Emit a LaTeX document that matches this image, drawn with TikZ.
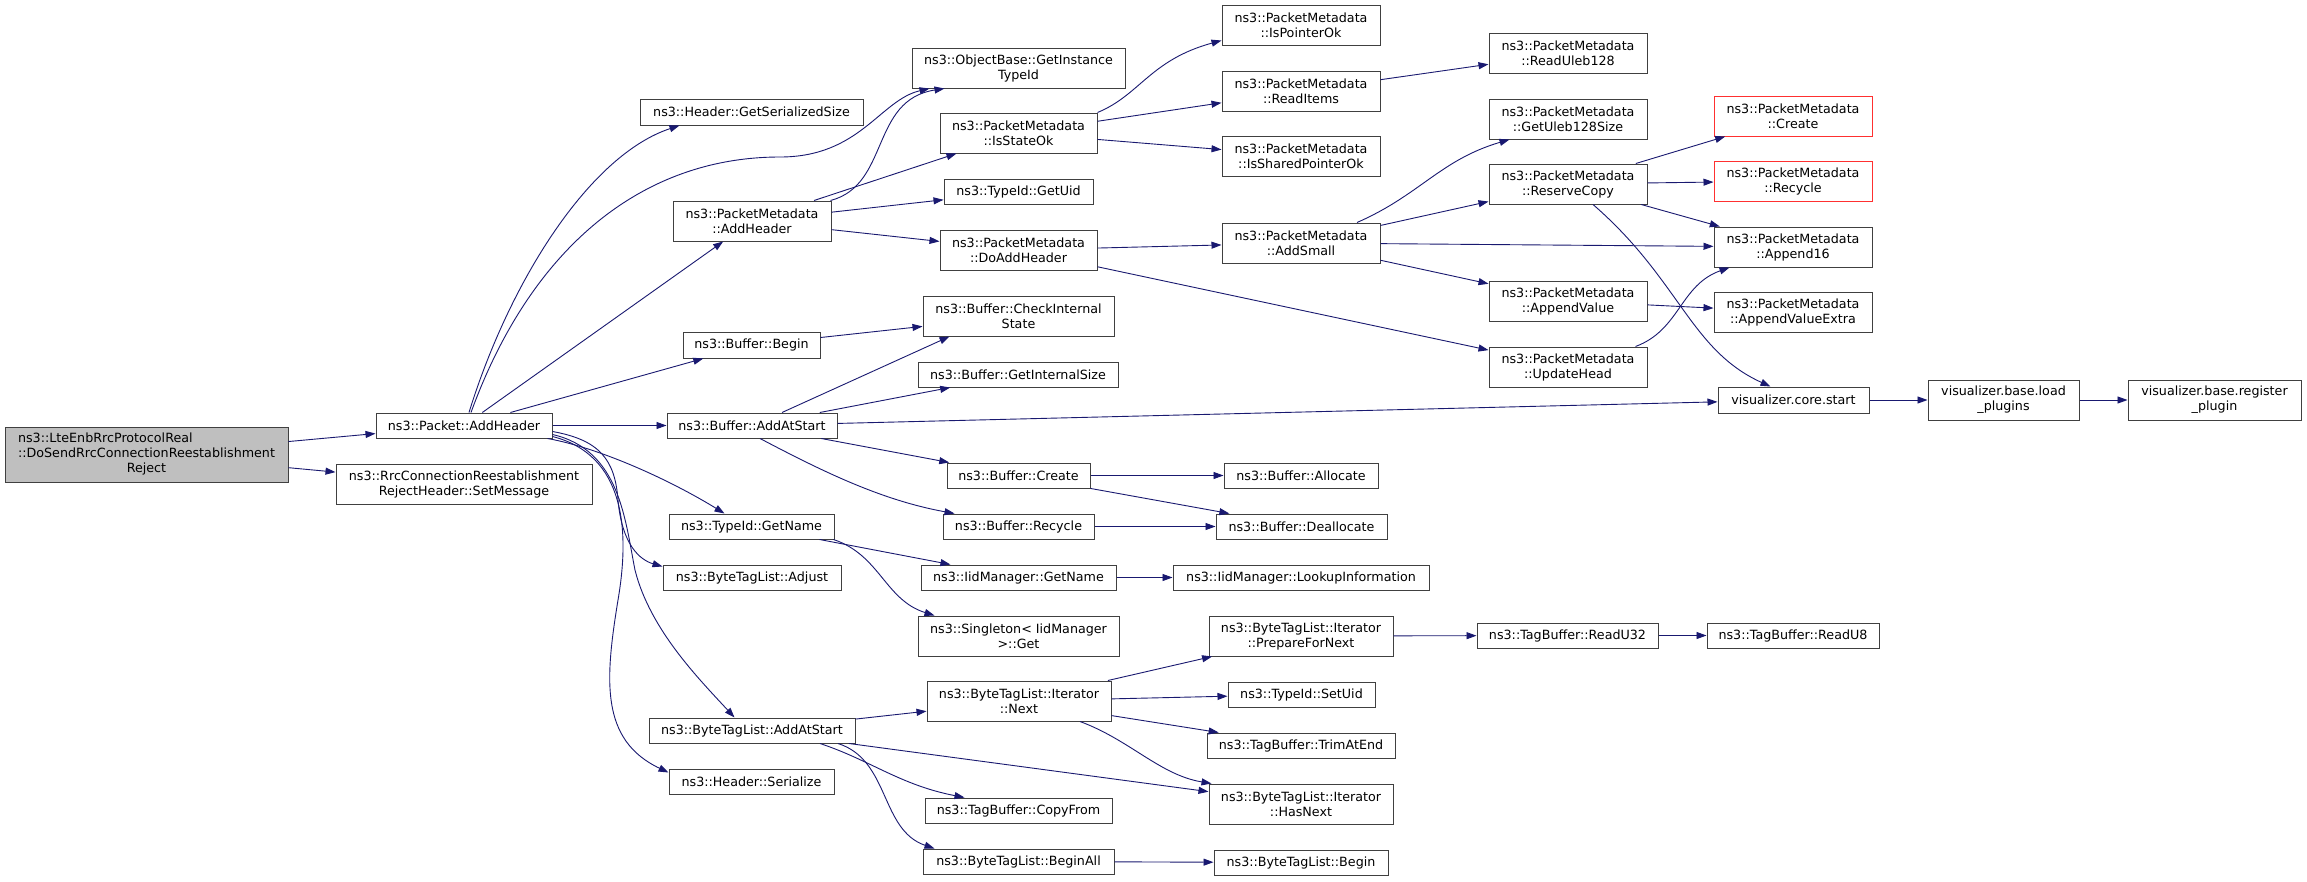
\documentclass[tikz,border=0pt]{standalone}
\usepackage{fontspec}
\setmainfont{DejaVu Sans}
\usetikzlibrary{arrows.meta,calc}
\definecolor{edgec}{HTML}{191970}
\definecolor{boxc}{HTML}{404040}
\definecolor{rootfill}{HTML}{BFBFBF}
\definecolor{trunc}{HTML}{FF3030}
\newcommand\mkbox[6][]{\node[fbox,#1,minimum width={(#4-#2)*1pt},minimum height={(#5-#3)*1pt}] (#6) at ({(#2+#4)/2},{(#3+#5)/2})}
\tikzset{
  fbox/.style={draw=boxc, line width=1pt, inner sep=0pt, align=center, text=black, font=\fontsize{12.7}{15}\selectfont},
  e/.style={draw=edgec, line width=0.9pt, -{Triangle[length=10pt,width=7pt]}}
}
\begin{document}
\begin{tikzpicture}[x=1pt,y=-1pt]
\useasboundingbox (0,0) rectangle (2307,881);
\fill[white] (0,0) rectangle (2307,881);
% nodes
\mkbox[fill=rootfill]{5}{427}{288}{482}{root}{\begin{tabular}{@{}l@{}}ns3::LteEnbRrcProtocolReal\\::DoSendRrcConnectionReestablishment\\\multicolumn{1}{@{}c@{}}{Reject}\end{tabular}};
\mkbox{376}{413}{552}{438}{pah}{ns3::Packet::AddHeader};
\mkbox{336}{464}{592}{504}{setmsg}{ns3::RrcConnectionReestablishment\\RejectHeader::SetMessage};
\mkbox{640}{99}{863}{125}{gss}{ns3::Header::GetSerializedSize};
\mkbox{912}{48}{1125}{88}{obt}{ns3::ObjectBase::GetInstance\\TypeId};
\mkbox{673}{201}{831}{241}{pmah}{ns3::PacketMetadata\\::AddHeader};
\mkbox{683}{332}{820}{358}{bbegin}{ns3::Buffer::Begin};
\mkbox{667}{413}{837}{438}{baas}{ns3::Buffer::AddAtStart};
\mkbox{669}{514}{834}{539}{tgn}{ns3::TypeId::GetName};
\mkbox{663}{565}{841}{590}{adj}{ns3::ByteTagList::Adjust};
\mkbox{649}{718}{855}{743}{btlaas}{ns3::ByteTagList::AddAtStart};
\mkbox{669}{769}{834}{794}{hser}{ns3::Header::Serialize};
\mkbox{940}{113}{1097}{153}{iso}{ns3::PacketMetadata\\::IsStateOk};
\mkbox{944}{179}{1093}{204}{guid}{ns3::TypeId::GetUid};
\mkbox{940}{230}{1097}{270}{doah}{ns3::PacketMetadata\\::DoAddHeader};
\mkbox{923}{296}{1114}{336}{cis}{ns3::Buffer::CheckInternal\\State};
\mkbox{918}{362}{1118}{387}{gis}{ns3::Buffer::GetInternalSize};
\mkbox{947}{463}{1090}{488}{bcreate}{ns3::Buffer::Create};
\mkbox{943}{514}{1094}{539}{brecycle}{ns3::Buffer::Recycle};
\mkbox{921}{565}{1116}{590}{iidgn}{ns3::IidManager::GetName};
\mkbox{918}{616}{1119}{656}{single}{ns3::Singleton< IidManager\\>::Get};
\mkbox{927}{681}{1111}{721}{itnext}{ns3::ByteTagList::Iterator\\::Next};
\mkbox{925}{798}{1112}{823}{copyfrom}{ns3::TagBuffer::CopyFrom};
\mkbox{923}{849}{1114}{874}{beginall}{ns3::ByteTagList::BeginAll};
\mkbox{1222}{5}{1380}{45}{ipo}{ns3::PacketMetadata\\::IsPointerOk};
\mkbox{1222}{71}{1380}{111}{ritems}{ns3::PacketMetadata\\::ReadItems};
\mkbox{1222}{136}{1380}{176}{isp}{ns3::PacketMetadata\\::IsSharedPointerOk};
\mkbox{1222}{223}{1380}{263}{addsmall}{ns3::PacketMetadata\\::AddSmall};
\mkbox{1224}{463}{1378}{488}{alloc}{ns3::Buffer::Allocate};
\mkbox{1216}{514}{1387}{539}{dealloc}{ns3::Buffer::Deallocate};
\mkbox{1173}{565}{1429}{590}{lookup}{ns3::IidManager::LookupInformation};
\mkbox{1209}{616}{1393}{656}{pfn}{ns3::ByteTagList::Iterator\\::PrepareForNext};
\mkbox{1228}{682}{1375}{707}{setuid}{ns3::TypeId::SetUid};
\mkbox{1207}{733}{1395}{758}{trim}{ns3::TagBuffer::TrimAtEnd};
\mkbox{1209}{784}{1393}{824}{hasnext}{ns3::ByteTagList::Iterator\\::HasNext};
\mkbox{1214}{850}{1388}{875}{btlbegin}{ns3::ByteTagList::Begin};
\mkbox{1489}{33}{1647}{73}{rul}{ns3::PacketMetadata\\::ReadUleb128};
\mkbox{1489}{99}{1647}{139}{gul}{ns3::PacketMetadata\\::GetUleb128Size};
\mkbox{1489}{164}{1647}{204}{rcopy}{ns3::PacketMetadata\\::ReserveCopy};
\mkbox{1489}{281}{1647}{321}{appv}{ns3::PacketMetadata\\::AppendValue};
\mkbox{1489}{347}{1647}{387}{uhead}{ns3::PacketMetadata\\::UpdateHead};
\mkbox{1477}{623}{1658}{648}{ru32}{ns3::TagBuffer::ReadU32};
\mkbox[draw=trunc]{1714}{96}{1872}{136}{pmcreate}{ns3::PacketMetadata\\::Create};
\mkbox[draw=trunc]{1714}{161}{1872}{201}{pmrecycle}{ns3::PacketMetadata\\::Recycle};
\mkbox{1714}{227}{1872}{267}{app16}{ns3::PacketMetadata\\::Append16};
\mkbox{1714}{292}{1872}{332}{appvx}{ns3::PacketMetadata\\::AppendValueExtra};
\mkbox{1718}{387}{1869}{413}{vcs}{visualizer.core.start};
\mkbox{1928}{380}{2079}{420}{vlp}{visualizer.base.load\\\_plugins};
\mkbox{2128}{380}{2301}{420}{vrp}{visualizer.base.register\\\_plugin};
\mkbox{1707}{623}{1879}{648}{ru8}{ns3::TagBuffer::ReadU8};
% edges
\draw[e] (root) -- (pah);
\draw[e] (root) -- (setmsg);
\draw[e] ($(pah.north)+(5,0)$) .. controls (510,280) and (590,155) .. ($(gss.south west)+(40,0)$);
\draw[e] ($(pah.north)+(7,0)$) .. controls (530,250) and (640,157) .. (780,157) .. controls (860,157) and (880,100) .. ($(obt.south west)+(18,0)$);
\draw[e] (pah) -- (pmah);
\draw[e] (pah) -- (bbegin);
\draw[e] (pah) -- (baas);
\draw[e] ($(pah.south east)+(-5,0)$) .. controls (600,448) and (670,480) .. ($(tgn.north west)+(56,0)$);
\draw[e] ($(pah.east)+(0,6)$) .. controls (600,440) and (615,460) .. (618,500) .. controls (622,545) and (640,560) .. ($(adj.north west)+(0,2)$);
\draw[e] ($(pah.east)+(0,9)$) .. controls (620,450) and (625,520) .. (635,570) .. controls (650,630) and (700,680) .. ($(btlaas.north west)+(86,0)$);
\draw[e] ($(pah.east)+(0,11)$) .. controls (625,455) and (630,530) .. (618,600) .. controls (605,680) and (600,740) .. ($(hser.north west)+(0,4)$);
\draw[e] ($(pmah.north east)+(-1,0)$) .. controls (890,185) and (870,100) .. ($(obt.south west)+(33,0)$);
\draw[e] (pmah) -- (iso);
\draw[e] (pmah) -- (guid);
\draw[e] (pmah) -- (doah);
\draw[e] (iso.north east) .. controls (1140,95) and (1150,60) .. ($(ipo.south west)+(0,-5)$);
\draw[e] (iso) -- (ritems);
\draw[e] (iso) -- (isp);
\draw[e] (ritems) -- (rul);
\draw[e] (doah) -- (addsmall);
\draw[e] (doah) -- (uhead);
\draw[e] ($(addsmall.north)+(56,0)$) .. controls (1420,195) and (1440,160) .. ($(gul.south west)+(21,0)$);
\draw[e] (addsmall) -- (rcopy);
\draw[e] (addsmall) -- (app16);
\draw[e] (addsmall) -- (appv);
\draw[e] (rcopy) -- (pmcreate);
\draw[e] (rcopy) -- (pmrecycle);
\draw[e] (rcopy) -- (app16);
\draw[e] ($(rcopy.south)+(25,0)$) .. controls (1680,280) and (1690,350) .. ($(vcs.north)+(-23,0)$);
\draw[e] (appv) -- (appvx);
\draw[e] ($(uhead.north east)+(-12,0)$) .. controls (1680,330) and (1680,285) .. ($(app16.south west)+(16,0)$);
\draw[e] (bbegin) -- (cis);
\draw[e] ($(baas.north)+(30,0)$) -- ($(cis.south west)+(27,0)$);
\draw[e] (baas) -- (gis);
\draw[e] (baas) -- (vcs);
\draw[e] (baas) -- (bcreate);
\draw[e] ($(baas.south)+(8,0)$) .. controls (820,470) and (880,500) .. ($(brecycle.north west)+(12,0)$);
\draw[e] (bcreate) -- (alloc);
\draw[e] (bcreate) -- (dealloc);
\draw[e] (brecycle) -- (dealloc);
\draw[e] (vcs) -- (vlp);
\draw[e] (vlp) -- (vrp);
\draw[e] (tgn) -- (iidgn);
\draw[e] ($(tgn.south east)+(-1,0)$) .. controls (880,555) and (885,600) .. ($(single.north west)+(17,0)$);
\draw[e] (iidgn) -- (lookup);
\draw[e] (btlaas) -- (itnext);
\draw[e] (btlaas) -- (hasnext);
\draw[e] ($(btlaas.south)+(68,0)$) .. controls (870,760) and (900,785) .. ($(copyfrom.north west)+(40,0)$);
\draw[e] ($(btlaas.south)+(86,0)$) .. controls (890,760) and (880,830) .. ($(beginall.north west)+(12,0)$);
\draw[e] (itnext) -- (pfn);
\draw[e] (itnext) -- (setuid);
\draw[e] (itnext) -- (trim);
\draw[e] ($(itnext.south)+(61,0)$) .. controls (1130,740) and (1160,775) .. ($(hasnext.north west)+(3,0)$);
\draw[e] (pfn) -- (ru32);
\draw[e] (ru32) -- (ru8);
\draw[e] (beginall) -- (btlbegin);
\end{tikzpicture}
\end{document}
